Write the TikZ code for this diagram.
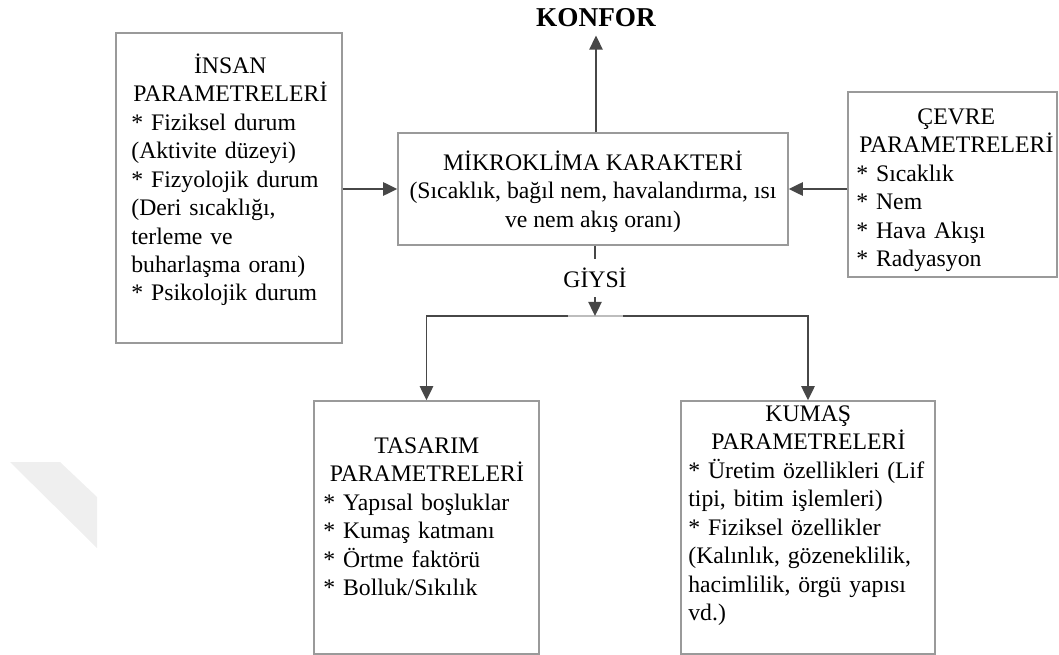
\documentclass[tikz,border=0pt]{standalone}
\usepackage{fontspec}
\setmainfont{Liberation Serif}
\usetikzlibrary{arrows.meta,fit}
\setlength{\parindent}{0pt}
\newcommand\hdline[1]{\leavevmode\hbox to\hsize{\hss\strut#1\hss}}
\definecolor{boxc}{HTML}{9A9A9A}
\definecolor{arrc}{HTML}{474747}
\definecolor{lightc}{HTML}{BDBDBD}
\definecolor{wmc}{HTML}{EFEFEF}
\tikzset{
  panel/.style={draw=boxc, line width=0.8pt, inner sep=0pt},
  txt/.style={inner sep=0pt, font=\fontsize{13.5}{16.2}\selectfont},
  conn/.style={draw=arrc, line width=1.1pt},
  arr/.style={conn, -{Triangle[length=8pt,width=7.5pt]}},
}
\begin{document}
\begin{tikzpicture}[x=0.02cm,y=-0.02cm]
\useasboundingbox (0,0) rectangle (1059,655);
\fill[wmc] (10,462) -- (60,462) -- (97,497) -- (97,548) -- cycle;

% boxes
\node[panel, fit={(116,33) (342,343)}] (insan) {};
\node[panel, fit={(398,133) (788,245)}] (mikro) {};
\node[panel, fit={(848,92) (1057,277)}] (cevre) {};
\node[panel, fit={(314,401) (539,654)}] (tasarim) {};
\node[panel, fit={(681,401) (935,654)}] (kumas) {};

% texts
\node[txt, text width=3.96cm, align=left, anchor=north west] (insanT) at (131,53)
  {\hdline{İNSAN}\\\hdline{PARAMETRELERİ}\\{*} Fiziksel durum\\(Aktivite düzeyi)\\{*} Fizyolojik durum\\(Deri sıcaklığı,\\terleme ve\\buharlaşma oranı)\\{*} Psikolojik durum};
\node[txt, text width=4cm, align=left, anchor=north west] (cevreT) at (856,104)
  {\hdline{ÇEVRE}\\\hdline{PARAMETRELERİ}\\{*} Sıcaklık\\{*} Nem\\{*} Hava Akışı\\{*} Radyasyon};
\node[txt, text width=4.14cm, align=left, anchor=north west] (tasarimT) at (323,433)
  {\hdline{TASARIM}\\\hdline{PARAMETRELERİ}\\{*} Yapısal boşluklar\\{*} Kumaş katmanı\\{*} Örtme faktörü\\{*} Bolluk/Sıkılık};
\node[txt, text width=4.8cm, align=left, anchor=north west] (kumasT) at (688,401)
  {\hdline{KUMAŞ}\\\hdline{PARAMETRELERİ}\\{*} Üretim özellikleri (Lif\\tipi, bitim işlemleri)\\{*} Fiziksel özellikler\\(Kalınlık, gözeneklilik,\\hacimlilik, örgü yapısı\\vd.)};
\node[txt, align=center, anchor=north] (mikroT) at (593,150)
  {\strut MİKROKLİMA KARAKTERİ\\(Sıcaklık, bağıl nem, havalandırma, ısı\\ve nem akış oranı)};

\node[font=\bfseries\fontsize{15.5}{18}\selectfont, inner xsep=0pt, inner ysep=4.5pt, anchor=base] (konfor) at (596,27) {KONFOR};
\node[txt, inner ysep=5pt, anchor=base] (giysi) at (595,288) {GİYSİ};

% connectors
\coordinate (jun) at (595,316);
\coordinate (la) at (568,316);
\coordinate (lb) at (623,316);
\draw[arr] (mikro.north -| konfor.south) -- (konfor.south);
\draw[arr] (insan.east |- mikro.west) -- (mikro.west);
\draw[arr] (cevre.west |- mikro.east) -- (mikro.east);
\draw[conn] (mikro.south -| giysi.north) -- (giysi.north);
\draw[arr] (jun) -| (tasarim.north);
\draw[arr] (jun) -| (kumas.north);
\draw[lightc, line width=1.1pt] (la) -- (lb);
\draw[arr] (giysi.south) -- (jun);
\end{tikzpicture}
\end{document}
